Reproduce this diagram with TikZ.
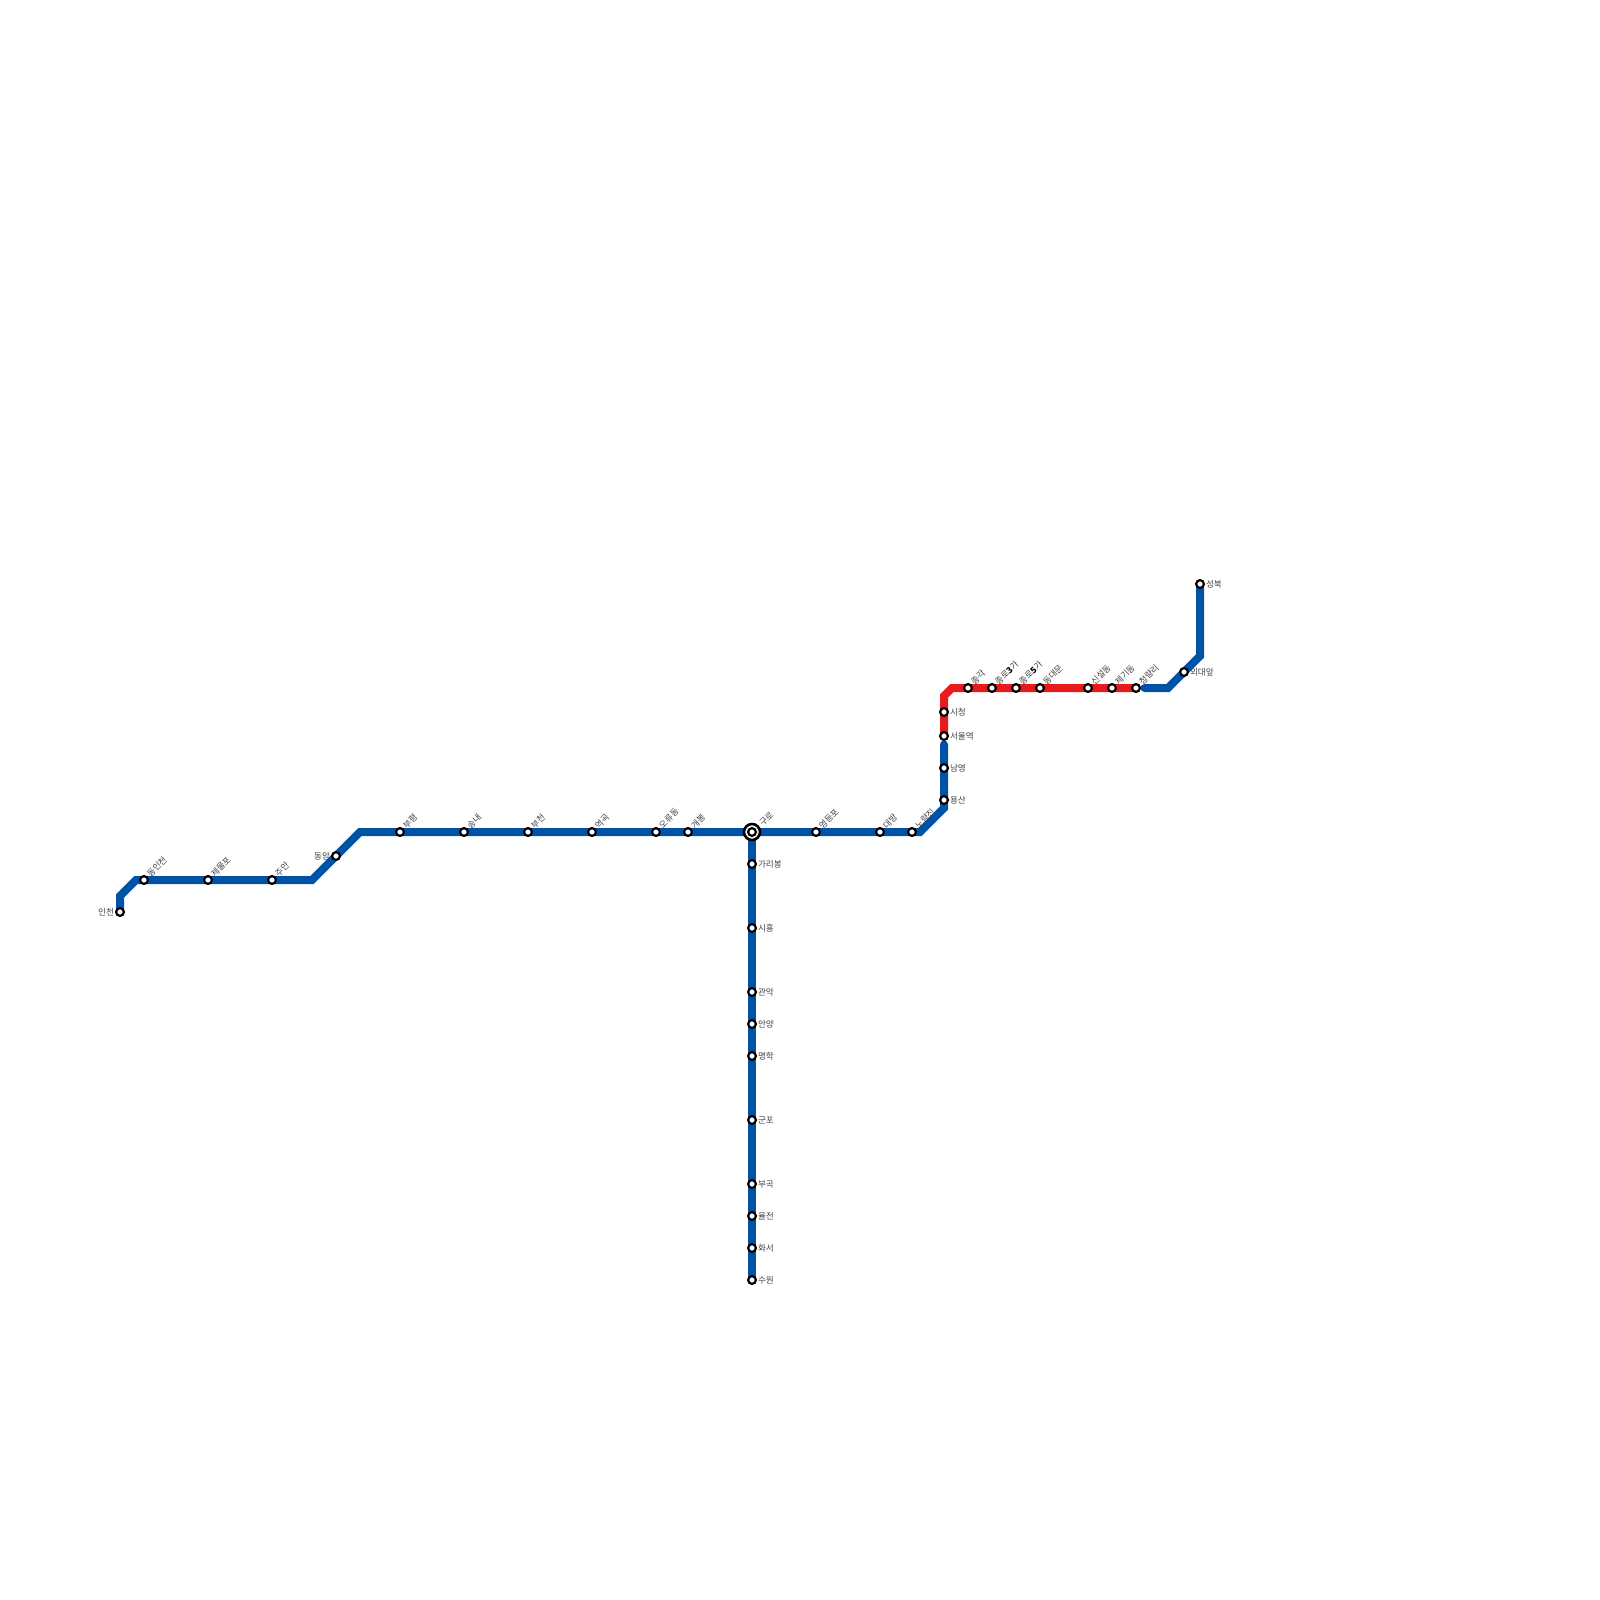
\documentclass[tikz,border=0pt]{standalone}
\usepackage{fontspec}
\setmainfont{Noto Sans CJK KR}
\usetikzlibrary{backgrounds}
\definecolor{lineblue}{HTML}{0052A4}
\definecolor{linered}{HTML}{E61C1C}
\definecolor{labelgrey}{HTML}{444444}
\newcommand{\dgt}[1]{\textcolor{black}{\textbf{#1}}}
\tikzset{
  x=1pt,y=-1pt,
  stn/.style={circle,draw=black,fill=white,line width=2.2pt,minimum size=7.8pt,inner sep=0pt,outer sep=0pt},
  hub/.style={circle,draw=black,fill=white,line width=2.6pt,minimum size=16pt,inner sep=0pt,outer sep=0pt},
  txt/.style={font=\fontsize{8.6pt}{8.6pt}\selectfont,text=labelgrey,inner sep=0pt,outer sep=0pt},
  lblE/.style={txt,anchor=west,xshift=6pt},
  lblW/.style={txt,anchor=east,xshift=-6pt},
  lblR/.style={txt,anchor=west,xshift=4.5pt,yshift=5pt,rotate=45},
  lblH/.style={txt,anchor=west,xshift=9pt,yshift=7.5pt,rotate=45},
  route/.style={line width=8pt,line join=miter,line cap=round},
}
\begin{document}
\begin{tikzpicture}
\useasboundingbox (0,0) rectangle (1600,1600);
\coordinate (corner1) at (0,0);
\coordinate (corner2) at (1600,1600);
\coordinate (b1) at (120,896);
\coordinate (b2) at (136,880);
\coordinate (b3) at (312,880);
\coordinate (b4) at (360,832);
\coordinate (b5) at (920,832);
\coordinate (b6) at (944,808);
\coordinate (b7) at (944,744.5);
\coordinate (b8) at (944,696);
\coordinate (b9) at (952,688);
\coordinate (b10) at (1144.5,688);
\coordinate (b11) at (1168,688);
\coordinate (b12) at (1200,656);
\node[stn] (incheon) at (120,912) {};
\node[stn] (dongincheon) at (144,880) {};
\node[stn] (jemulpo) at (208,880) {};
\node[stn] (juan) at (272,880) {};
\node[stn] (dongam) at (336,856) {};
\node[stn] (bupyeong) at (400,832) {};
\node[stn] (songnae) at (464,832) {};
\node[stn] (bucheon) at (528,832) {};
\node[stn] (yeokgok) at (592,832) {};
\node[stn] (oryu) at (656,832) {};
\node[stn] (gaebong) at (688,832) {};
\node[hub] (guro) at (752,832) {};
\node[stn] (gurocore) at (752,832) {};
\node[stn] (yeongdeungpo) at (816,832) {};
\node[stn] (daebang) at (880,832) {};
\node[stn] (noryangjin) at (912,832) {};
\node[stn] (yongsan) at (944,800) {};
\node[stn] (namyeong) at (944,768) {};
\node[stn] (seoul) at (944,736) {};
\node[stn] (sicheong) at (944,712) {};
\node[stn] (jonggak) at (968,688) {};
\node[stn] (jongno3) at (992,688) {};
\node[stn] (jongno5) at (1016,688) {};
\node[stn] (dongdaemun) at (1040,688) {};
\node[stn] (sinseol) at (1088,688) {};
\node[stn] (jegi) at (1112,688) {};
\node[stn] (cheongnyangni) at (1136,688) {};
\node[stn] (oedae) at (1184,672) {};
\node[stn] (seongbuk) at (1200,584) {};
\node[stn] (garibong) at (752,864) {};
\node[stn] (siheung) at (752,928) {};
\node[stn] (gwanak) at (752,992) {};
\node[stn] (anyang) at (752,1024) {};
\node[stn] (myeonghak) at (752,1056) {};
\node[stn] (gunpo) at (752,1120) {};
\node[stn] (bugok) at (752,1184) {};
\node[stn] (yuljeon) at (752,1216) {};
\node[stn] (hwaseo) at (752,1248) {};
\node[stn] (suwon) at (752,1280) {};
\begin{scope}[on background layer]
\fill[white] (corner1) rectangle (corner2);
\draw[route,lineblue] (incheon.center) -- (b1) -- (b2) -- (b3) -- (b4) -- (b5) -- (b6) -- (b7);
\draw[route,lineblue] (guro.center) -- (suwon.center);
\draw[route,linered] (seoul.center) -- (b8) -- (b9) -- (cheongnyangni.center);
\draw[route,lineblue] (b10) -- (b11) -- (b12) -- (seongbuk.center);
\end{scope}
\node[lblW] (t1) at (incheon) {인천};
\node[lblR] (t2) at (dongincheon) {동인천};
\node[lblR] (t3) at (jemulpo) {제물포};
\node[lblR] (t4) at (juan) {주안};
\node[lblW] (t5) at (dongam) {동암};
\node[lblR] (t6) at (bupyeong) {부평};
\node[lblR] (t7) at (songnae) {송내};
\node[lblR] (t8) at (bucheon) {부천};
\node[lblR] (t9) at (yeokgok) {역곡};
\node[lblR] (t10) at (oryu) {오류동};
\node[lblR] (t11) at (gaebong) {개봉};
\node[lblH] (t12) at (guro) {구로};
\node[lblR] (t13) at (yeongdeungpo) {영등포};
\node[lblR] (t14) at (daebang) {대방};
\node[lblR] (t15) at (noryangjin) {노량진};
\node[lblE] (t16) at (yongsan) {용산};
\node[lblE] (t17) at (namyeong) {남영};
\node[lblE] (t18) at (seoul) {서울역};
\node[lblE] (t19) at (sicheong) {시청};
\node[lblR] (t20) at (jonggak) {종각};
\node[lblR] (t21) at (jongno3) {종로\dgt{3}가};
\node[lblR] (t22) at (jongno5) {종로\dgt{5}가};
\node[lblR] (t23) at (dongdaemun) {동대문};
\node[lblR] (t24) at (sinseol) {신설동};
\node[lblR] (t25) at (jegi) {제기동};
\node[lblR] (t26) at (cheongnyangni) {청량리};
\node[lblE] (t27) at (oedae) {외대앞};
\node[lblE] (t28) at (seongbuk) {성북};
\node[lblE] (t29) at (garibong) {가리봉};
\node[lblE] (t30) at (siheung) {시흥};
\node[lblE] (t31) at (gwanak) {관악};
\node[lblE] (t32) at (anyang) {안양};
\node[lblE] (t33) at (myeonghak) {명학};
\node[lblE] (t34) at (gunpo) {군포};
\node[lblE] (t35) at (bugok) {부곡};
\node[lblE] (t36) at (yuljeon) {율전};
\node[lblE] (t37) at (hwaseo) {화서};
\node[lblE] (t38) at (suwon) {수원};
\end{tikzpicture}
\end{document}
